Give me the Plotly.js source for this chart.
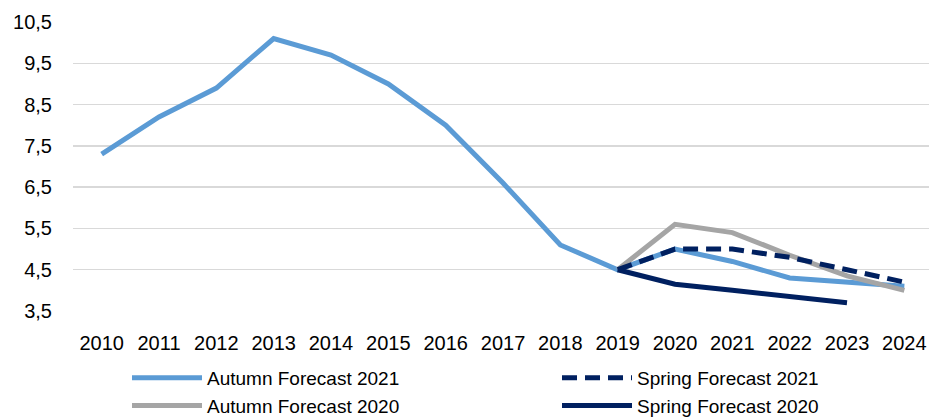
<!DOCTYPE html>
<html>
<head>
<meta charset="utf-8">
<script src="https://cdn.plot.ly/plotly-3.0.1.min.js"></script>
<style>html,body{margin:0;padding:0;background:#fff;}#chart{width:929px;height:417px;}</style>
</head>
<body>
<div id="chart"></div>
<script>
const years = [2010,2011,2012,2013,2014,2015,2016,2017,2018,2019,2020,2021,2022,2023,2024];
const autumn2021Years = years;
const autumn2021 = [7.3,8.2,8.9,10.1,9.7,9.0,8.0,6.6,5.1,4.5,5.0,4.7,4.3,4.2,4.1];
const spring2021Years = [2019,2020,2021,2022,2023,2024];
const spring2021 = [4.5,5.0,5.0,4.8,4.5,4.2];
const autumn2020Years = [2019,2020,2021,2022,2023,2024];
const autumn2020 = [4.5,5.6,5.4,4.85,4.35,4.0];
const spring2020Years = [2019,2020,2021,2022,2023];
const spring2020 = [4.5,4.15,4.0,3.85,3.7];
const yTicks = [3.5,4.5,5.5,6.5,7.5,8.5,9.5,10.5];
const yTickText = yTicks.map(v => v.toFixed(1).replace('.', ','));

const font = {family: 'Liberation Sans, Arial, sans-serif', size: 20, color: '#000'};
const legendFont = {family: 'Liberation Sans, Arial, sans-serif', size: 19, color: '#000'};

const traces = [
  {x: autumn2021Years, y: autumn2021, name: 'Autumn Forecast 2021', mode: 'lines',
   line: {color: '#5B9BD5', width: 5}, legend: 'legend'},
  {x: autumn2020Years, y: autumn2020, name: 'Autumn Forecast 2020', mode: 'lines',
   line: {color: '#A5A5A5', width: 5}, legend: 'legend'},
  {x: spring2020Years, y: spring2020, name: 'Spring Forecast 2020', mode: 'lines',
   line: {color: '#002060', width: 5}, legend: 'legend2', legendrank: 2},
  {x: spring2021Years, y: spring2021, name: 'Spring Forecast 2021', mode: 'lines',
   line: {color: '#002060', width: 5, dash: '15px,8px'}, legend: 'legend2', legendrank: 1}
];

const legendBase = {
  orientation: 'v', xanchor: 'left', yanchor: 'top', xref: 'container', yref: 'container',
  itemwidth: 70, font: legendFont, bgcolor: 'rgba(0,0,0,0)', tracegroupgap: 0
};

const layout = {
  width: 929, height: 417,
  margin: {l: 73, r: 0, t: 22, b: 106, autoexpand: false},
  paper_bgcolor: '#fff', plot_bgcolor: '#fff',
  font: font,
  showlegend: true,
  xaxis: {
    range: [2009.5, 2024.43], tickvals: years, ticktext: years.map(String),
    showgrid: false, zeroline: false, showline: false, ticks: '',
    tickfont: font, ticklabelstandoff: 18, fixedrange: true
  },
  yaxis: {
    range: [3.5, 10.5], tickvals: yTicks, ticktext: yTickText,
    showgrid: true, gridcolor: '#D9D9D9', gridwidth: 1.5,
    zeroline: false, showline: false, ticks: '',
    tickfont: font, ticklabelstandoff: 20, fixedrange: true
  },
  legend: Object.assign({}, legendBase, {x: 127/929, y: 1 - 359/417, traceorder: 'normal'}),
  legend2: Object.assign({}, legendBase, {x: 557/929, y: 1 - 359/417, traceorder: 'normal'})
};

Plotly.newPlot('chart', traces, layout, {displayModeBar: false, staticPlot: true});
</script>
</body>
</html>
